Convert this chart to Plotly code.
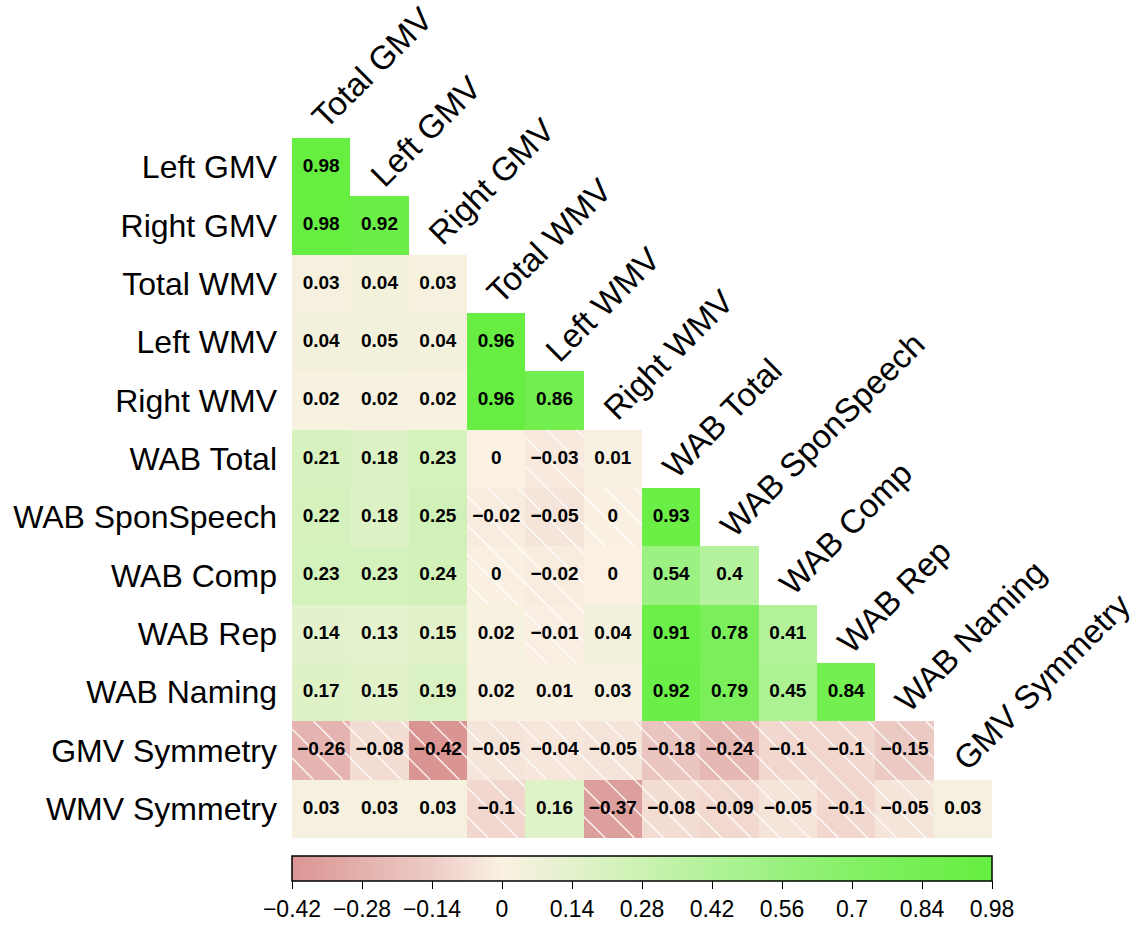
import numpy as np
import plotly.graph_objects as go

# Variables on each axis of the lower-triangle correlation matrix
column_labels = ["Total GMV", "Left GMV", "Right GMV", "Total WMV", "Left WMV",
                 "Right WMV", "WAB Total", "WAB SponSpeech", "WAB Comp", "WAB Rep",
                 "WAB Naming", "GMV Symmetry"]
row_labels = ["Left GMV", "Right GMV", "Total WMV", "Left WMV", "Right WMV",
              "WAB Total", "WAB SponSpeech", "WAB Comp", "WAB Rep", "WAB Naming",
              "GMV Symmetry", "WMV Symmetry"]

# Correlation coefficients, one list per row (lower triangle only)
r_left_gmv = [0.98]
r_right_gmv = [0.98, 0.92]
r_total_wmv = [0.03, 0.04, 0.03]
r_left_wmv = [0.04, 0.05, 0.04, 0.96]
r_right_wmv = [0.02, 0.02, 0.02, 0.96, 0.86]
r_wab_total = [0.21, 0.18, 0.23, 0.0, -0.03, 0.01]
r_wab_spon = [0.22, 0.18, 0.25, -0.02, -0.05, -0.004, 0.93]
r_wab_comp = [0.23, 0.23, 0.24, -0.003, -0.02, 0.0, 0.54, 0.4]
r_wab_rep = [0.14, 0.13, 0.15, 0.02, -0.01, 0.04, 0.91, 0.78, 0.41]
r_wab_naming = [0.17, 0.15, 0.19, 0.02, 0.01, 0.03, 0.92, 0.79, 0.45, 0.84]
r_gmv_sym = [-0.26, -0.08, -0.42, -0.05, -0.04, -0.05, -0.18, -0.24, -0.1, -0.1, -0.15]
r_wmv_sym = [0.03, 0.03, 0.03, -0.1, 0.16, -0.37, -0.08, -0.09, -0.05, -0.1, -0.05, 0.03]

rows = [r_left_gmv, r_right_gmv, r_total_wmv, r_left_wmv, r_right_wmv, r_wab_total,
        r_wab_spon, r_wab_comp, r_wab_rep, r_wab_naming, r_gmv_sym, r_wmv_sym]

# Colour bar limits and ticks
z_min, z_max = -0.42, 0.98
bar_ticks = [-0.42, -0.28, -0.14, 0, 0.14, 0.28, 0.42, 0.56, 0.7, 0.84, 0.98]

FONT = "Liberation Sans, Arial, Helvetica, sans-serif"

n = len(column_labels)
z = np.full((n, n), np.nan)
for i, vals in enumerate(rows):
    z[i, :len(vals)] = vals

colorscale = [
    [0.0, "#DA9593"],
    [0.2, "#EDCCC6"],
    [0.3, "#FAF1E3"],
    [0.4, "#E3F2CC"],
    [0.5, "#CBF2B2"],
    [0.6, "#B1F299"],
    [0.7, "#99F17F"],
    [0.8, "#84F066"],
    [0.9, "#74EF52"],
    [1.0, "#66EE40"],
]


def fmt(v):
    s = f"{round(v, 2):.2f}".rstrip("0").rstrip(".")
    if s in ("-0", "0", ""):
        return "0"
    return s.replace("-", "\u2212")


centers = np.arange(n) + 0.5
fig = go.Figure()
fig.add_trace(go.Heatmap(
    z=z, x=centers, y=centers, zmin=z_min, zmax=z_max,
    colorscale=colorscale, hoverongaps=False,
    colorbar=dict(
        orientation="h", x=0.5, xanchor="center", y=-0.026, yanchor="top",
        len=1.0, lenmode="fraction", thickness=25, xpad=0, ypad=0,
        outlinewidth=1.5, outlinecolor="black", borderwidth=0,
        tickvals=bar_ticks, ticktext=[fmt(t) for t in bar_ticks],
        ticks="outside", ticklen=8, tickwidth=1.2, tickcolor="black",
        tickfont=dict(family=FONT, size=23, color="black"),
    ),
))

# Diagonal white hatching over negative correlations
spacing, phase = 0.5, 0.37
hx, hy = [], []
for i in range(n):
    for j in range(n):
        v = z[i, j]
        if np.isnan(v) or v >= 0:
            continue
        k0 = int(np.floor((j - i - 1 - phase) / spacing)) - 1
        k1 = int(np.ceil((j - i + 1 - phase) / spacing)) + 1
        for k in range(k0, k1 + 1):
            d = phase + spacing * k
            xa, xb = max(j, i + d), min(j + 1, i + 1 + d)
            if xb - xa > 1e-6:
                hx += [xa, xb, None]
                hy += [xa - d, xb - d, None]
fig.add_trace(go.Scatter(x=hx, y=hy, mode="lines", hoverinfo="skip",
                         line=dict(color="rgba(255,255,255,0.85)", width=1.5),
                         showlegend=False))

# Coefficient labels in each cell
tx, ty, tt = [], [], []
for i, vals in enumerate(rows):
    for j, v in enumerate(vals):
        tx.append(j + 0.5)
        ty.append(i + 0.5)
        tt.append(fmt(v))
fig.add_trace(go.Scatter(
    x=tx, y=ty, text=tt, mode="text", hoverinfo="skip", showlegend=False,
    textfont=dict(family=FONT, size=19, color="black", weight="bold"),
))

# Column names written diagonally above the top cell of each column
for j, name in enumerate(column_labels):
    fig.add_annotation(
        x=j, y=j, xref="x", yref="y", text=name, textangle=-45,
        showarrow=False, xanchor="left", yanchor="bottom", xshift=10, yshift=0,
        font=dict(family=FONT, size=33, color="black"),
    )

fig.update_layout(
    width=1136, height=926,
    margin=dict(l=292, r=144, t=138, b=88, autoexpand=False),
    paper_bgcolor="white", plot_bgcolor="white",
    showlegend=False,
    xaxis=dict(range=[0, n], showticklabels=False, showgrid=False,
               zeroline=False, showline=False, ticks=""),
    yaxis=dict(range=[n, 0], tickvals=list(centers), ticktext=row_labels,
               showgrid=False, zeroline=False, showline=False, ticks="",
               ticklabelstandoff=14,
               tickfont=dict(family=FONT, size=32, color="black")),
)

fig.write_html("out.html")
